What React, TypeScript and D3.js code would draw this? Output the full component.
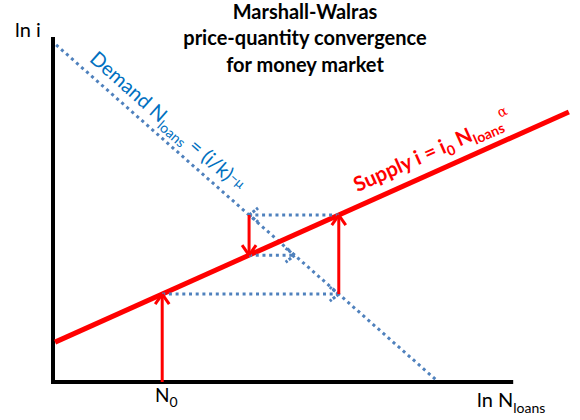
import React from "react";
import * as d3 from "d3";

// ---- data (in abstract "ln" units) ----
const supplyX = [0.4, 99.2];
const supplyY = [11.6, 78.5];
const demandX = [0.6, 73.9];
const demandY = [98.0, 0.3];
const n0 = [21];
const axisX = [0, 88.5];
const axisY = [0, 100.3];
const titleLines = ["Marshall-Walras", "price-quantity convergence", "for money market"];

const W = 580;
const H = 420;
const FONT = "Lato, 'Open Sans', sans-serif";
const RED = "#FF0000";
const BLUE = "#4F81BD";
const LABEL_BLUE = "#0070C0";

const x = d3.scaleLinear().domain([0, 100]).range([53, 573]);
const y = d3.scaleLinear().domain([0, 100]).range([382, 38]);

const interp = (xs: number[], ys: number[]) => (v: number) =>
  ys[0] + ((v - xs[0]) * (ys[1] - ys[0])) / (xs[1] - xs[0]);
const S = interp(supplyX, supplyY);
const Dinv = interp(demandY, demandX); // price -> quantity on demand

const line = d3
  .line<[number, number]>()
  .x((d) => x(d[0]))
  .y((d) => y(d[1]));

function chevronArms(tx: number, ty: number, dx: number, dy: number, L = 10, w = 7) {
  const len = Math.hypot(dx, dy);
  const ux = dx / len, uy = dy / len;
  const px = -uy, py = ux;
  const bx = tx - ux * L, by = ty - uy * L;
  return [
    `M${tx},${ty}L${bx + px * w},${by + py * w}`,
    `M${tx},${ty}L${bx - px * w},${by - py * w}`,
  ];
}

function angleOf(xs: number[], ys: number[]) {
  const dx = x(xs[1]) - x(xs[0]);
  const dy = y(ys[1]) - y(ys[0]);
  return (Math.atan2(dy, dx) * 180) / Math.PI;
}

export default function App() {
  // cobweb
  const q0 = n0[0];
  const p0 = S(q0);
  const q1 = Dinv(p0);
  const p1 = S(q1);
  const q2 = Dinv(p1);
  const p2 = S(q2);
  const q3 = Dinv(p2);

  const redSegs: [number, number, number, number][] = [
    [q0, 0, q0, p0],
    [q1, p0, q1, p1],
    [q2, p1, q2, p2],
  ];
  const blueSegs: [number, number, number, number][] = [
    [q0, p0, q1, p0],
    [q1, p1, q2, p1],
    [q2, p2, q3, p2],
  ];

  const demandAngle = angleOf(demandX, demandY);
  const supplyAngle = angleOf(supplyX, supplyY);

  // label anchor points
  const dAt = 5.6;
  const dRad = (demandAngle * Math.PI) / 180;
  const dPx = x(dAt) + Math.sin(dRad) * 9.6;
  const dPy = y(interp(demandX, demandY)(dAt)) - Math.cos(dRad) * 9.6;

  const sAt = 59.6;
  const sRad = (supplyAngle * Math.PI) / 180;
  const sPx = x(sAt) + Math.sin(sRad) * 13;
  const sPy = y(S(sAt)) - Math.cos(sRad) * 13;

  return (
    <svg
      width={W}
      height={H}
      style={{ position: "absolute", left: 0, top: 0, background: "#fff" }}
      fontFamily={FONT}
    >
      {/* axes */}
      <path
        d={line([
          [axisX[0], axisY[1]],
          [axisX[0], axisY[0]],
          [axisX[1], axisY[0]],
        ])!}
        fill="none"
        stroke="#000"
        strokeWidth={4}
      />

      {/* demand */}
      <path
        d={line([
          [demandX[0], demandY[0]],
          [demandX[1], demandY[1]],
        ])!}
        fill="none"
        stroke={BLUE}
        strokeWidth={3}
        strokeDasharray="3 3.7"
      />

      {/* supply */}
      <path
        d={line([
          [supplyX[0], supplyY[0]],
          [supplyX[1], supplyY[1]],
        ])!}
        fill="none"
        stroke={RED}
        strokeWidth={5}
      />

      {/* blue dotted arrows */}
      {blueSegs.map(([a, b, c, d], i) => (
        <g key={"b" + i} fill="none" stroke={BLUE} strokeWidth={3}>
          <path d={line([[a, b], [c, d]])!} strokeDasharray="3 3.7" />
          {chevronArms(x(c), y(d), x(c) - x(a), y(d) - y(b), 9, 7).map((p, k) => (
            <path key={k} d={p} strokeDasharray="3 1.5" />
          ))}
        </g>
      ))}

      {/* red arrows */}
      {redSegs.map(([a, b, c, d], i) => (
        <g key={"r" + i} fill="none" stroke={RED} strokeWidth={3}>
          <path d={line([[a, b], [c, d]])!} />
          {chevronArms(x(c), y(d), x(c) - x(a), y(d) - y(b), 10, 7).map((p, k) => (
            <path key={k} d={p} />
          ))}
        </g>
      ))}

      {/* title */}
      {titleLines.map((t, i) => (
        <text
          key={t}
          x={305}
          y={18.5 + i * 26.5}
          textAnchor="middle"
          fontWeight="bold"
          fontSize={20}
          fill="#000"
        >
          {t}
        </text>
      ))}

      {/* axis labels */}
      <text x={15} y={37} fontSize={20} fill="#000">
        ln i
      </text>
      <text x={477} y={407} fontSize={20} fill="#000">
        ln N
        <tspan fontSize={14} dy={6}>
          loans
        </tspan>
      </text>
      <text x={155} y={401.5} fontSize={19} fill="#000">
        N
        <tspan fontSize={14} dy={5}>
          0
        </tspan>
      </text>

      {/* demand label */}
      <g transform={`translate(${dPx},${dPy}) rotate(${demandAngle})`}>
        <text x={0} y={0} fontSize={20} fill={LABEL_BLUE}>
          Demand N
          <tspan fontSize={14} dy={5}>
            loans
          </tspan>
          <tspan fontSize={20} dy={-5}>
            {" = (i/k)"}
          </tspan>
          <tspan fontSize={13} dy={-4}>
            −μ
          </tspan>
        </text>
      </g>

      {/* supply label */}
      <g transform={`translate(${sPx},${sPy}) rotate(${supplyAngle})`}>
        <text x={0} y={0} fontSize={20.5} fontWeight="bold" fill={RED}>
          Supply i = i
          <tspan fontSize={14} dy={5}>
            0
          </tspan>
          <tspan fontSize={20.5} dy={-5}>
            {" N"}
          </tspan>
          <tspan fontSize={14} dy={5}>
            loans
          </tspan>
          <tspan fontSize={14} fontWeight="normal" fontFamily="'DejaVu Serif', serif" dy={-15}>
            α
          </tspan>
        </text>
      </g>
    </svg>
  );
}
